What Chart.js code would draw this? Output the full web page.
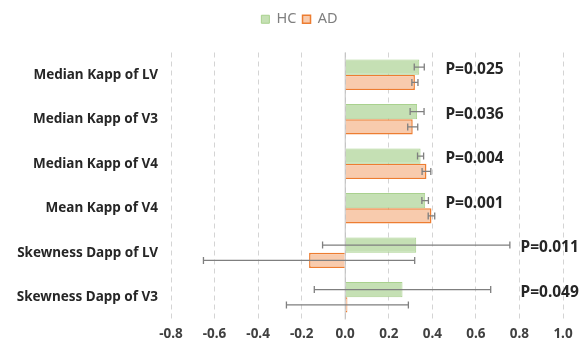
<!DOCTYPE html>
<html>
<head>
<meta charset="utf-8">
<script src="https://cdn.jsdelivr.net/npm/chart.js@4/dist/chart.umd.min.js"></script>
<style>
  html, body { margin: 0; padding: 0; background: #fff; }
  #wrap { width: 584px; height: 346px; }
</style>
</head>
<body>
<div id="wrap"><canvas id="myChart"></canvas></div>
<script>
const categories = ['Median Kapp of LV', 'Median Kapp of V3', 'Median Kapp of V4', 'Mean Kapp of V4', 'Skewness Dapp of LV', 'Skewness Dapp of V3'];
const hcValues = [0.34, 0.33, 0.346, 0.367, 0.326, 0.263];
const hcErrors = [0.023, 0.032, 0.014, 0.015, 0.43, 0.405];
const adValues = [0.32, 0.31, 0.373, 0.396, -0.166, 0.01];
const adErrors = [0.014, 0.023, 0.02, 0.015, 0.485, 0.28];
const pLabels = ['P=0.025', 'P=0.036', 'P=0.004', 'P=0.001', 'P=0.011', 'P=0.049'];
const pLabelAt = [0.46, 0.46, 0.46, 0.46, 0.805, 0.805];

const font = "'Noto Sans', sans-serif";

// more room under the legend, and center it over the whole canvas
const legendGap = {
    id: 'legendGap',
    beforeInit(chart) {
        const fit = chart.legend.fit;
        chart.legend.fit = function () {
            fit.bind(chart.legend)();
            this.height += 16;
        };
    },
    afterLayout(chart) {
        chart.legend.left += 18;
        chart.legend.right += 18;
    }
};

// zero line + error bars + p values
const extras = {
    id: 'extras',
    beforeDatasetsDraw(chart) {
        const { ctx, chartArea, scales } = chart;
        const x0 = scales.x.getPixelForValue(0);
        ctx.save();
        ctx.strokeStyle = '#bfbfbf';
        ctx.lineWidth = 1;
        ctx.beginPath();
        ctx.moveTo(x0, chartArea.top);
        ctx.lineTo(x0, chartArea.bottom);
        ctx.stroke();
        ctx.restore();
    },
    afterDatasetsDraw(chart) {
        const { ctx, scales } = chart;
        const errs = [hcErrors, adErrors];
        ctx.save();
        ctx.strokeStyle = '#7f7f7f';
        ctx.lineWidth = 1.3;
        chart.data.datasets.forEach((ds, d) => {
            chart.getDatasetMeta(d).data.forEach((bar, i) => {
                const v = ds.data[i];
                const xl = scales.x.getPixelForValue(v - errs[d][i]);
                const xr = scales.x.getPixelForValue(v + errs[d][i]);
                const y = bar.y;
                ctx.beginPath();
                ctx.moveTo(xl, y); ctx.lineTo(xr, y);
                ctx.moveTo(xl, y - 3.5); ctx.lineTo(xl, y + 3.5);
                ctx.moveTo(xr, y - 3.5); ctx.lineTo(xr, y + 3.5);
                ctx.stroke();
            });
        });
        ctx.fillStyle = '#262626';
        ctx.font = 'bold 15.5px ' + font;
        ctx.textAlign = 'left';
        ctx.textBaseline = 'middle';
        pLabels.forEach((t, i) => {
            ctx.fillText(t, scales.x.getPixelForValue(pLabelAt[i]), scales.y.getPixelForValue(i) - 5);
        });
        ctx.restore();
    }
};

const ctx = document.getElementById('myChart');
const myChart = new Chart(ctx, {
    type: 'bar',
    data: {
        labels: categories,
        datasets: [
            {
                label: 'HC',
                data: hcValues,
                backgroundColor: '#c5e0b4',
                borderColor: '#a9d18e',
                borderWidth: 1
            },
            {
                label: 'AD',
                data: adValues,
                backgroundColor: '#f8cbad',
                borderColor: '#ed7d31',
                borderWidth: 1.5
            }
        ]
    },
    options: {
        indexAxis: 'y',
        responsive: true,
        maintainAspectRatio: false,
        animation: false,
        layout: { padding: { top: 6, right: 21, bottom: 0, left: 0 } },
        datasets: { bar: { categoryPercentage: 0.69, barPercentage: 1 } },
        plugins: {
            legend: {
                position: 'top',
                labels: {
                    boxWidth: 8,
                    boxHeight: 8,
                    padding: 6,
                    color: '#7f7f7f',
                    font: { family: font, size: 14.5 }
                }
            },
            tooltip: { enabled: false }
        },
        scales: {
            x: {
                min: -0.8,
                max: 1.0,
                afterFit(scale) { scale.height = 26.5; },
                ticks: {
                    stepSize: 0.2,
                    color: '#404040',
                    padding: 7,
                    font: { family: font, size: 13.5, weight: 'bold' },
                    callback: (v) => Number(v).toFixed(1)
                },
                grid: {
                    color: '#d4d4d4',
                    drawTicks: false,
                    lineWidth: 1
                },
                border: { display: false, dash: [5, 4] }
            },
            y: {
                afterFit(scale) { scale.width = 171; },
                ticks: {
                    color: '#262626',
                    padding: 5,
                    font: { family: font, size: 13.5, weight: 'bold' }
                },
                grid: { display: false },
                border: { display: false }
            }
        }
    },
    plugins: [legendGap, extras]
});
</script>
</body>
</html>
